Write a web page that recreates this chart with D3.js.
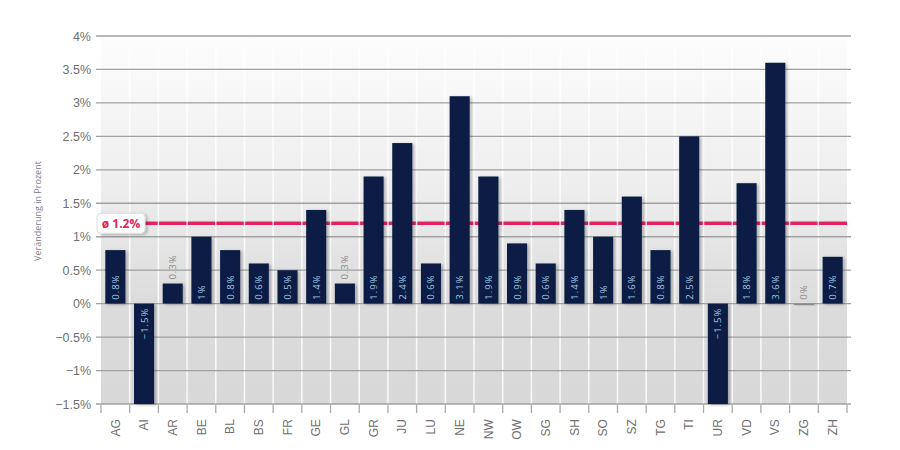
<!DOCTYPE html>
<html>
<head>
<meta charset="utf-8">
<script src="https://cdn.jsdelivr.net/npm/d3@7"></script>
<style>
  body { margin: 0; background: #fff; }
  svg { font-family: "Open Sans", "DejaVu Sans", sans-serif; }
</style>
</head>
<body>
<svg id="chart" width="900" height="450"></svg>
<script>
// cantons and yearly change in percent
var cantons = ["AG","AI","AR","BE","BL","BS","FR","GE","GL","GR","JU","LU","NE","NW","OW","SG","SH","SO","SZ","TG","TI","UR","VD","VS","ZG","ZH"];
var changes = [0.8,-1.5,0.3,1,0.8,0.6,0.5,1.4,0.3,1.9,2.4,0.6,3.1,1.9,0.9,0.6,1.4,1,1.6,0.8,2.5,-1.5,1.8,3.6,0,0.7];
var yTicks = [-1.5,-1,-0.5,0,0.5,1,1.5,2,2.5,3,3.5,4];
var average = 1.2;

var svg = d3.select("#chart");
// plot box (window.top is reserved, so use other names)
var plotLeft = 101, plotRight = 847, plotTop = 36, plotBottom = 404;

var x = d3.scaleBand().domain(cantons).range([plotLeft, plotRight]).paddingInner(0.3).paddingOuter(0.15);
var y = d3.scaleLinear().domain([-1.5, 4]).range([plotBottom, plotTop]);

function fmt(v) {
  return (v < 0 ? "\u2212" : "") + String(Math.abs(v)) + "%";
}

var defs = svg.append("defs");
var grad = defs.append("linearGradient").attr("id", "bg").attr("x1", 0).attr("y1", 0).attr("x2", 0).attr("y2", 1);
grad.append("stop").attr("offset", "0%").attr("stop-color", "#fefdfe");
grad.append("stop").attr("offset", "40%").attr("stop-color", "#eeeeee");
grad.append("stop").attr("offset", "72%").attr("stop-color", "#dcdcdc");
grad.append("stop").attr("offset", "100%").attr("stop-color", "#d8d8d8");

var shadow = defs.append("filter").attr("id", "shadow").attr("x", "-20%").attr("y", "-20%").attr("width", "160%").attr("height", "160%");
shadow.append("feDropShadow").attr("dx", 2).attr("dy", 1).attr("stdDeviation", 1.5).attr("flood-color", "#000").attr("flood-opacity", 0.25);

// plot background
svg.append("rect")
    .attr("x", plotLeft).attr("y", plotTop)
    .attr("width", plotRight - plotLeft).attr("height", plotBottom - plotTop)
    .attr("fill", "url(#bg)");

// average line sits behind separators and bars
svg.append("line")
    .attr("x1", 140).attr("x2", plotRight)
    .attr("y1", y(average)).attr("y2", y(average))
    .attr("stroke", "#e2245e").attr("stroke-width", 3.5);

// white separators between the cantons
var step = x.step();
var sepX = function(i) { return plotLeft + i * step; };
svg.append("g")
  .selectAll("line")
    .data(d3.range(1, cantons.length))
  .enter().append("line")
    .attr("x1", sepX).attr("x2", sepX)
    .attr("y1", plotTop + 10).attr("y2", plotBottom)
    .attr("stroke", "#fff").attr("stroke-width", 1.5).attr("opacity", 0.85);

// horizontal grid
svg.append("g")
  .selectAll("line")
    .data(yTicks)
  .enter().append("line")
    .attr("x1", 96).attr("x2", 851)
    .attr("y1", function(d) { return y(d); })
    .attr("y2", function(d) { return y(d); })
    .attr("stroke", "#a0a0a0").attr("stroke-width", 1.3);

// y axis labels
var yAxis = svg.append("g")
    .attr("transform", "translate(96,0)")
    .call(d3.axisLeft(y).tickValues(yTicks).tickSize(0).tickPadding(5).tickFormat(fmt));
yAxis.select(".domain").remove();
yAxis.selectAll("text").attr("font-size", 12.5).attr("fill", "#707070");

svg.append("text")
    .attr("transform", "translate(41,211) rotate(-90)")
    .attr("text-anchor", "middle")
    .attr("font-size", 9)
    .attr("fill", "#808080")
    .text("Veränderung in Prozent");

// bars
svg.append("g")
  .selectAll("rect")
    .data(changes)
  .enter().append("rect")
    .attr("x", function(d, i) { return x(cantons[i]); })
    .attr("width", x.bandwidth())
    .attr("y", function(d) { return d >= 0 ? y(d) : y(0); })
    .attr("height", function(d) { return d === 0 ? 1.5 : Math.abs(y(d) - y(0)); })
    .attr("fill", function(d) { return d === 0 ? "#8a8a8a" : "#0b1f45"; })
    .attr("filter", "url(#shadow)");

// value labels
svg.append("g")
  .selectAll("text")
    .data(changes)
  .enter().append("text")
    .attr("transform", function(d, i) {
      var cx = x(cantons[i]) + x.bandwidth() / 2 + 3.5;
      var small = d >= 0 && d < 0.4;
      var yy;
      if (d < 0) yy = y(0) + 4;
      else if (small) yy = y(d) - 4;
      else yy = y(0) - 4;
      return "translate(" + cx + "," + yy + ") rotate(-90)";
    })
    .attr("text-anchor", function(d) { return d < 0 ? "end" : "start"; })
    .attr("font-size", 9.5)
    .attr("letter-spacing", 1)
    .attr("fill", function(d) { return (d >= 0 && d < 0.4) ? "#8a8a8a" : "#9cc6e4"; })
    .text(fmt);

var badge = svg.append("g").attr("transform", "translate(97," + (y(average) - 10) + ")");
badge.append("rect")
    .attr("width", 48).attr("height", 20).attr("rx", 4)
    .attr("fill", "#fff").attr("stroke", "#ddd")
    .attr("filter", "url(#shadow)");
badge.append("text")
    .attr("x", 24).attr("y", 14.5)
    .attr("text-anchor", "middle")
    .attr("font-size", 12).attr("font-weight", "bold")
    .attr("fill", "#e2245e")
    .text("ø " + average + "%");

// x axis
var xAxis = svg.append("g")
    .attr("transform", "translate(0," + plotBottom + ")")
    .call(d3.axisBottom(x).tickSize(0).tickPadding(8));
xAxis.select(".domain").remove();
xAxis.selectAll("text")
    .attr("transform", "translate(0,8) rotate(-90)")
    .attr("text-anchor", "end")
    .attr("dx", "-0.6em").attr("dy", "0.35em")
    .attr("x", 0).attr("y", 0)
    .attr("font-size", 12).attr("fill", "#707070");

// separator ticks under the axis
svg.append("g")
  .selectAll("line")
    .data(d3.range(cantons.length + 1))
  .enter().append("line")
    .attr("x1", sepX).attr("x2", sepX)
    .attr("y1", plotBottom + 1).attr("y2", plotBottom + 9)
    .attr("stroke", "#aaa").attr("stroke-width", 1.3);
</script>
</body>
</html>
